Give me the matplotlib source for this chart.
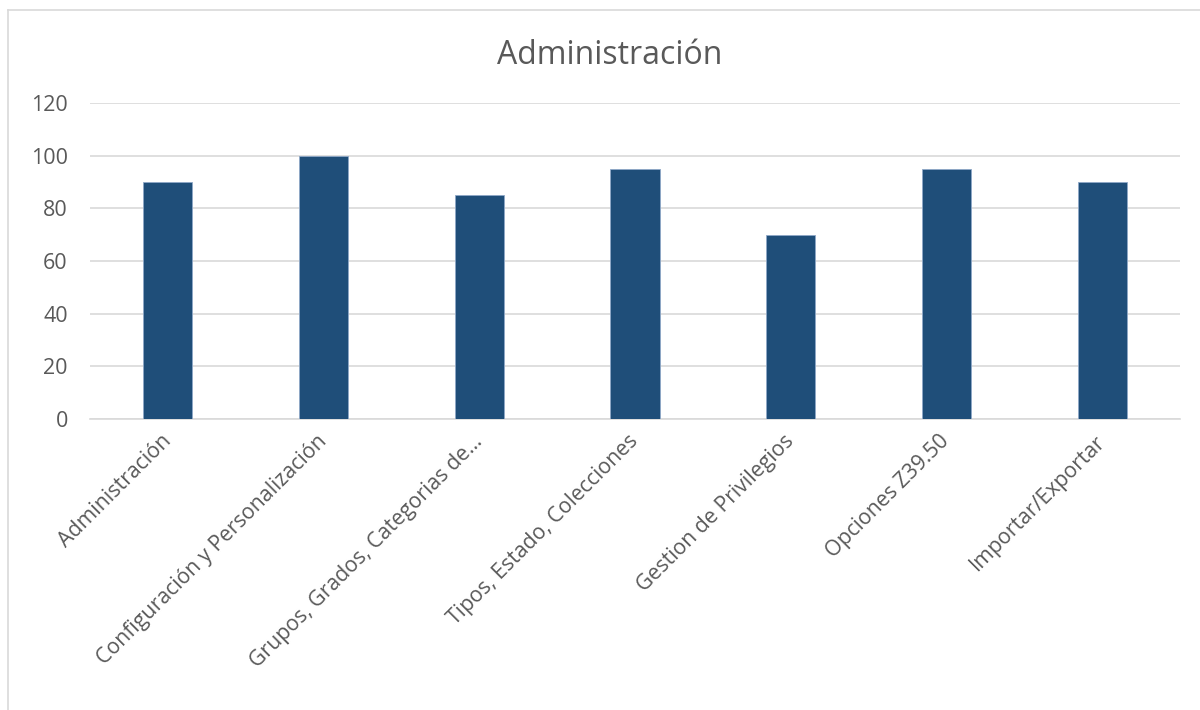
import matplotlib.pyplot as plt
from matplotlib.lines import Line2D

categories = [
    'Administración',
    'Configuración y Personalización',
    'Grupos, Grados, Categorias de…',
    'Tipos, Estado, Colecciones',
    'Gestion de Privilegios',
    'Opciones Z39.50',
    'Importar/Exportar',
]
values = [90, 100, 85, 95, 70, 95, 90]
yticks = [0, 20, 40, 60, 80, 100, 120]

plt.rcParams['font.family'] = ['Open Sans', 'DejaVu Sans']
text_color = '#595959'
grid_color = '#D9D9D9'
bar_color = '#1F4E79'

fig = plt.figure(figsize=(12, 7.1), dpi=100)
ax = fig.add_axes([90 / 1200, 1 - 419 / 710, 1090 / 1200, 316 / 710])

x = range(len(categories))
ax.bar(x, values, width=0.315, color=bar_color, edgecolor='#8FA8C8', linewidth=0.6, zorder=3)

ax.set_xlim(-0.5, len(categories) - 0.5)
ax.set_ylim(0, 120)
ax.set_yticks(yticks)
ax.set_yticklabels([str(v) for v in yticks], fontsize=15.5, color=text_color)
ax.yaxis.grid(True, color=grid_color, linewidth=1.2, zorder=0)
ax.tick_params(axis='y', length=0, pad=16)
ax.tick_params(axis='x', length=0, pad=14)
ax.set_xticks(list(x))
ax.set_xticklabels(categories, rotation=45, ha='right', va='center',
                   rotation_mode='anchor', fontsize=15.3, color=text_color)
for s in ['top', 'right', 'left']:
    ax.spines[s].set_visible(False)
ax.spines['bottom'].set_color(grid_color)
ax.spines['bottom'].set_linewidth(1.2)

fig.text(610 / 1200, 1 - 55 / 710, 'Administración', ha='center', va='center',
         fontsize=23, color=text_color)

# chart frame (only left and top edges are visible in the crop)
fig.add_artist(Line2D([8 / 1200, 8 / 1200], [0, 1 - 10 / 710], color=grid_color, lw=1.2,
                      transform=fig.transFigure))
fig.add_artist(Line2D([8 / 1200, 1], [1 - 10 / 710, 1 - 10 / 710], color=grid_color, lw=1.2,
                      transform=fig.transFigure))

fig.savefig('out.png', dpi=100)
